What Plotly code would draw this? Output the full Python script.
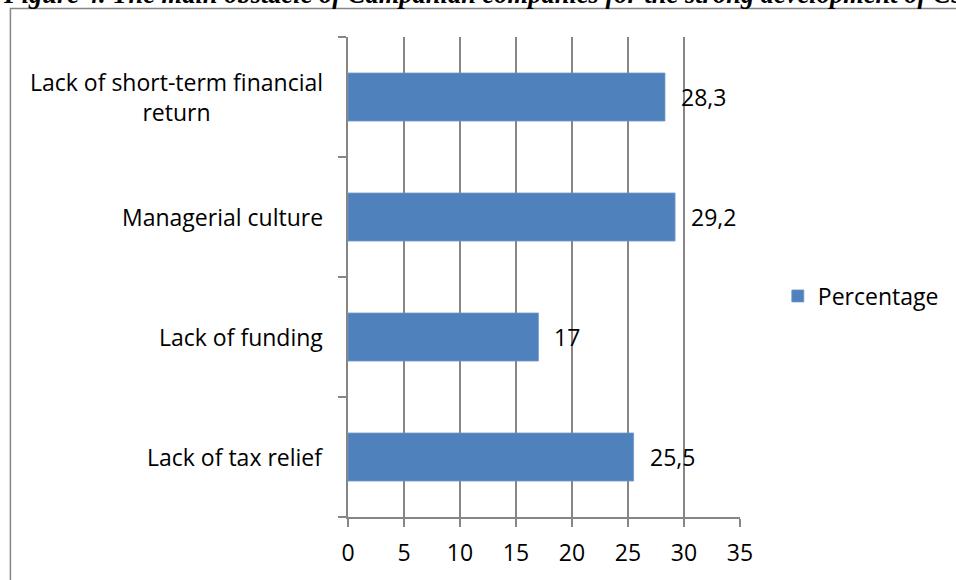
import plotly.graph_objects as go

categories = ["Lack of tax relief", "Lack of funding", "Managerial culture",
              "Lack of short-term financial<br>return"]
values = [25.5, 17, 29.2, 28.3]
value_labels = ["25,5", "17", "29,2", "28,3"]
series_name = "Percentage"
x_ticks = [0, 5, 10, 15, 20, 25, 30, 35]
title_text = "Figure 4. The main obstacle of Campanian companies for the strong development of CSR"

W, H = 956, 580
L, R, T, B = 348, 214, 37, 63
pw, ph = W - L - R, H - T - B

def px_x(p):
    return (p - L) / pw

def px_y(p):
    return (H - B - p) / ph

FONT = "Open Sans"
FS = 23
GRID = "#868686"

fig = go.Figure()
fig.add_trace(go.Bar(
    y=categories, x=values, orientation="h", name=series_name,
    marker=dict(color="#4F81BD", line=dict(color="#6F97C8", width=0.8)),
    width=0.4, showlegend=True,
))

annotations = []
for c in categories:
    annotations.append(dict(x=0, xref="paper", y=c, yref="y", text=c,
                            xanchor="right", yanchor="middle", align="center",
                            xshift=-23, showarrow=False,
                            font=dict(family=FONT, size=FS, color="black")))
for c, v, t in zip(categories, values, value_labels):
    annotations.append(dict(x=v, xref="x", y=c, yref="y", text=t,
                            xanchor="left", yanchor="middle", xshift=14,
                            showarrow=False,
                            font=dict(family=FONT, size=FS, color="black")))
annotations.append(dict(x=px_x(-1), xref="paper", y=px_y(10.7), yref="paper",
                        text="<b><i>" + title_text + "</i></b>",
                        xanchor="left", yanchor="bottom", showarrow=False,
                        font=dict(family="Liberation Serif", size=26.5, color="black")))

shapes = [dict(type="rect", xref="paper", yref="paper",
               x0=px_x(8.7), x1=px_x(1000), y0=px_y(8.5), y1=px_y(700),
               line=dict(color=GRID, width=1.5), fillcolor="rgba(0,0,0,0)",
               layer="below")]

fig.update_layout(
    width=W, height=H,
    margin=dict(l=L, r=R, t=T, b=B, pad=0),
    paper_bgcolor="white", plot_bgcolor="white",
    font=dict(family=FONT, size=FS, color="black"),
    xaxis=dict(range=[0, 35], tickvals=x_ticks, ticktext=[str(t) for t in x_ticks],
               showgrid=True, gridcolor=GRID, gridwidth=1.5,
               showline=True, linecolor=GRID, linewidth=1.5,
               ticks="outside", ticklen=8, tickcolor=GRID, tickwidth=1.5,
               zeroline=False, ticklabelstandoff=7,
               tickfont=dict(family=FONT, size=FS, color="black")),
    yaxis=dict(type="category", categoryorder="array", categoryarray=categories,
               range=[-0.5, 3.5], showgrid=False, showticklabels=False,
               showline=True, linecolor=GRID, linewidth=1.5,
               ticks="outside", ticklen=8, tickcolor=GRID, tickwidth=1.5,
               tickson="boundaries", zeroline=False),
    legend=dict(x=px_x(780), y=px_y(296), xanchor="left", yanchor="middle",
                font=dict(family=FONT, size=FS, color="black"),
                bgcolor="rgba(0,0,0,0)", itemwidth=30),
    annotations=annotations,
    shapes=shapes,
    bargap=0.6,
)

fig.write_html("out.html")
